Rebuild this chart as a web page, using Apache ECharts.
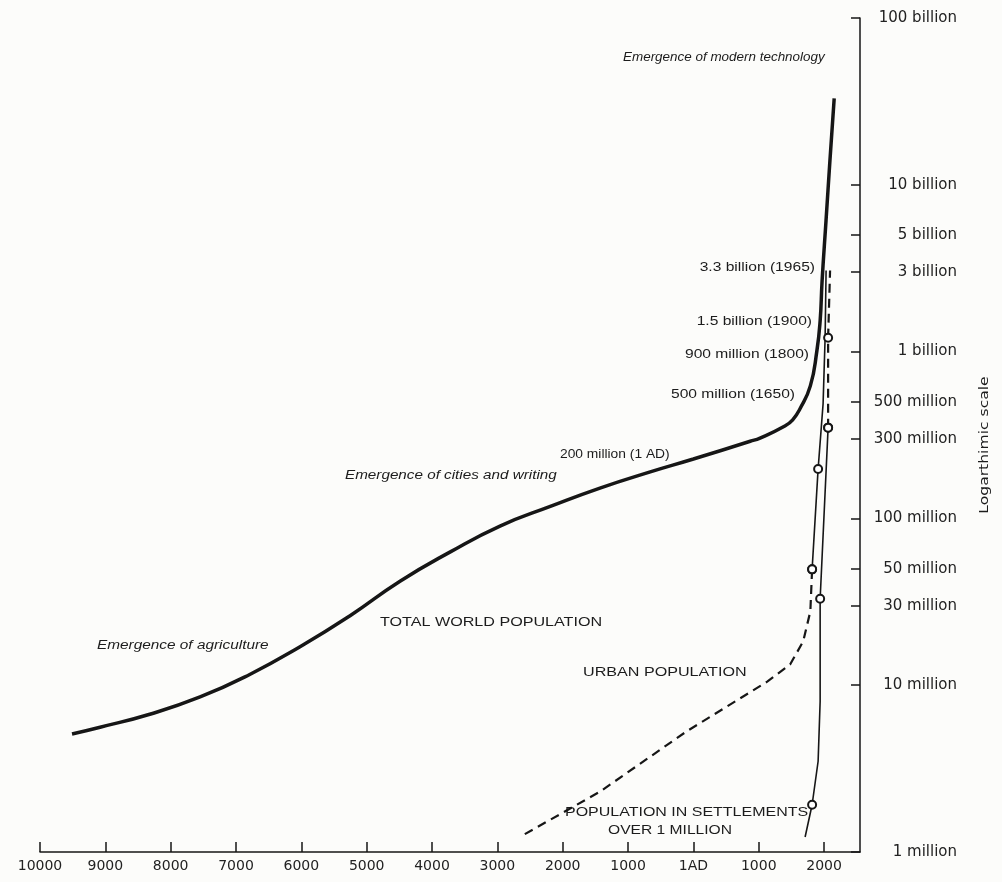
<!DOCTYPE html>
<html>
<head>
<meta charset="utf-8">
<title>World population growth</title>
<script src="https://cdn.jsdelivr.net/npm/echarts@6/dist/echarts.min.js"></script>
<style>
  html, body { margin: 0; padding: 0; background: #fcfcfa; }
  #chart { width: 1002px; height: 882px; }
</style>
</head>
<body>
<div id="chart"></div>
<script>
// years: negative = BC, 0 = 1 AD ; values in millions of people
var totalYears  = [-9510, -9080, -8320, -7550, -6790, -6020, -5260, -4490, -3720, -2960, -2190, -1430, -660, 0, 870, 1020, 1400, 1520, 1630, 1790, 1890, 1940, 1970, 2030, 2090, 2155];
var totalValues = [5.1, 5.6, 6.7, 8.5, 11.6, 17, 26, 42, 63, 90, 118, 152, 190, 227, 290, 303, 358, 390, 453, 623, 1010, 1530, 2660, 6100, 14000, 33000];

// urban population: dashed part, then the thin solid run after 1800
var urbanYears  = [-2580, -1430, -100, 1130, 1480, 1680, 1790, 1817];
var urbanValues = [1.28, 2.3, 5.3, 10.5, 13.3, 18.3, 27.7, 49.5];
var urbanLateYears  = [1817, 1909, 1985, 2016, 2031];
var urbanLateValues = [49.5, 198, 486, 1210, 3060];
var urbanCircleValues = [49.5, 198];

// settlements over 1 million: solid part, then the dashed run at the top
var millionYears  = [1710, 1817, 1909, 1940, 1940, 2062];
var millionValues = [1.23, 1.92, 3.5, 8, 33, 350];
var millionLateYears  = [2062, 2062, 2092];
var millionLateValues = [350, 1210, 3060];
var millionCircleValues = [1.92, 33, 350, 1210];

var xTicks = [-10000, -9000, -8000, -7000, -6000, -5000, -4000, -3000, -2000, -1000, 0, 1000, 2000];
var yTicks = [1, 10, 30, 50, 100, 300, 500, 1000, 3000, 5000, 10000, 100000];
var yTickLabels = ['1 million', '10 million', '30 million', '50 million', '100 million', '300 million',
  '500 million', '1 billion', '3 billion', '5 billion', '10 billion', '100 billion'];

var chart = echarts.init(document.getElementById('chart'));

function pairs(xs, ys, circledVals) {
  var out = [];
  for (var i = 0; i < xs.length; i++) {
    var mark = circledVals.indexOf(ys[i]) > -1;
    out.push({ value: [xs[i], ys[i]], symbol: mark ? 'emptyCircle' : 'none' });
  }
  return out;
}

var ink = '#161616';
var labelFont = 'DejaVu Sans';

// the scanned lettering is wide and low, so stretch it sideways
function note(text, x, y, opts) {
  opts = opts || {};
  return {
    type: 'text', x: x, y: y, silent: true,
    rotation: opts.rotation || 0,
    scaleX: opts.sx || 1.25,
    style: {
      text: text,
      fill: '#1c1c1c',
      font: (opts.italic ? 'italic ' : '') + (opts.size || 12) + 'px ' + (opts.family || 'Liberation Sans'),
      align: opts.align || 'left',
      verticalAlign: 'middle'
    }
  };
}

function thinLine(name, xs, ys, circles, dashed) {
  return {
    name: name,
    type: 'line',
    data: pairs(xs, ys, circles),
    showSymbol: true,
    symbolSize: 8,
    z: 3,
    itemStyle: { color: ink, borderWidth: 1.5 },
    lineStyle: dashed ? { color: ink, width: 2.2, type: [9, 6] } : { color: ink, width: 1.6 }
  };
}

chart.setOption({
  backgroundColor: '#fcfcfa',
  animation: false,
  grid: { left: 40, right: 142, top: 18, bottom: 30, containLabel: false, outerBoundsMode: 'none' },
  xAxis: {
    type: 'value',
    min: -10000,
    max: 2550,
    splitLine: { show: false },
    axisLine: { onZero: false, lineStyle: { color: ink, width: 1.5 } },
    axisTick: { inside: true, length: 10, customValues: xTicks, lineStyle: { color: ink, width: 1.5 } },
    axisLabel: {
      customValues: xTicks,
      color: '#222', fontSize: 14, fontFamily: labelFont, margin: 7,
      formatter: function (v) { return v === 0 ? '1AD' : String(Math.abs(v)); }
    }
  },
  yAxis: {
    type: 'log',
    logBase: 10,
    min: 1,
    max: 100000,
    position: 'right',
    splitLine: { show: false },
    axisLine: { show: true, onZero: false, lineStyle: { color: ink, width: 1.5 } },
    axisTick: { inside: true, length: 9, customValues: yTicks, lineStyle: { color: ink, width: 1.5 } },
    axisLabel: {
      customValues: yTicks,
      color: '#222', fontSize: 15, fontFamily: labelFont, margin: 97, align: 'right',
      formatter: function (v) {
        var i = yTicks.indexOf(Math.round(v));
        return i > -1 ? yTickLabels[i] : '';
      }
    }
  },
  series: [
    {
      name: 'Total world population',
      type: 'line',
      data: pairs(totalYears, totalValues, []),
      smooth: 0.5,
      symbol: 'none',
      lineStyle: { color: ink, width: 3.5 }
    },
    thinLine('Urban population', urbanYears, urbanValues, urbanCircleValues, true),
    thinLine('Urban population (since 1800)', urbanLateYears, urbanLateValues, urbanCircleValues, false),
    thinLine('Population in settlements over 1 million', millionYears, millionValues, millionCircleValues, false),
    thinLine('Settlements over 1 million (recent)', millionLateYears, millionLateValues, millionCircleValues, true)
  ],
  graphic: [
    note('Emergence of modern technology', 623, 58, { italic: true, size: 12, sx: 1.12 }),
    note('3.3 billion (1965)', 815, 268, { align: 'right', sx: 1.3 }),
    note('1.5 billion (1900)', 812, 322, { align: 'right', sx: 1.3 }),
    note('900 million (1800)', 809, 355, { align: 'right', sx: 1.3 }),
    note('500 million (1650)', 795, 395, { align: 'right', sx: 1.3 }),
    note('200 million (1 AD)', 560, 455, { sx: 1.15 }),
    note('Emergence of cities and writing', 345, 476, { italic: true, sx: 1.27 }),
    note('TOTAL WORLD POPULATION', 380, 622, { size: 13, sx: 1.24 }),
    note('Emergence of agriculture', 97, 646, { italic: true, sx: 1.28 }),
    note('URBAN POPULATION', 583, 672, { size: 13, sx: 1.24 }),
    note('POPULATION IN SETTLEMENTS', 565, 812, { size: 13, sx: 1.23 }),
    note('OVER 1 MILLION', 608, 830, { size: 13, sx: 1.2 }),
    note('Logarthimic scale', 985, 445, { align: 'center', family: labelFont, rotation: Math.PI / 2, sx: 1.3 })
  ]
});

window.addEventListener('resize', function () { chart.resize(); });
</script>
</body>
</html>
